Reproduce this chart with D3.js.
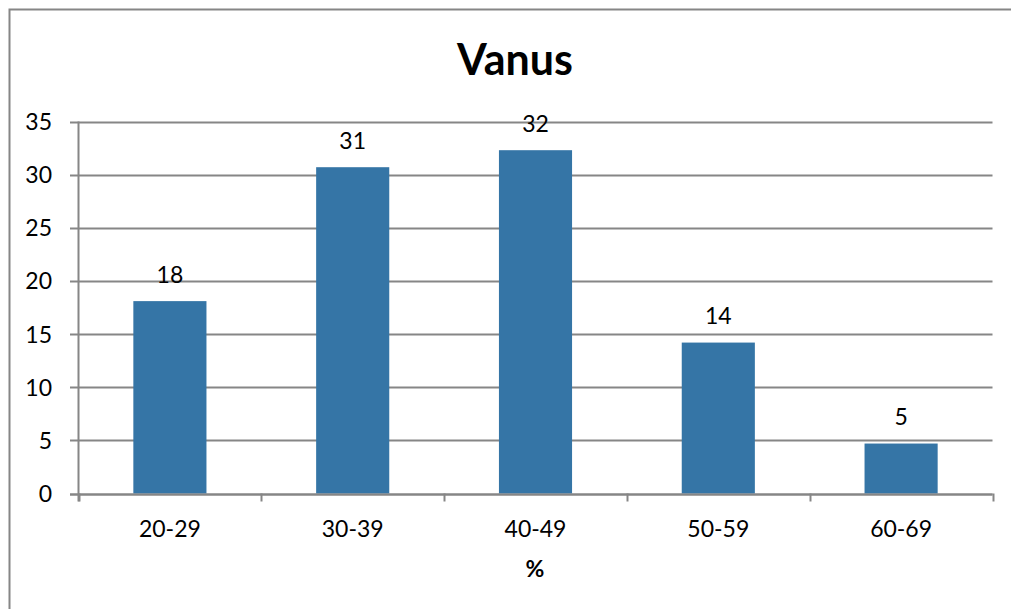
<!DOCTYPE html>
<html>
<head>
<meta charset="utf-8">
<script src="https://cdn.jsdelivr.net/npm/d3@7"></script>
<style>
  html, body { margin: 0; padding: 0; background: #fff; }
  svg { display: block; font-family: Lato, "Open Sans", sans-serif; }
</style>
</head>
<body>
<svg id="chart" width="1011" height="609"></svg>
<script>
const categories = ["20-29", "30-39", "40-49", "50-59", "60-69"];
const values = [18.1, 30.7, 32.3, 14.2, 4.7];
const labels = ["18", "31", "32", "14", "5"];
const yTicks = [0, 5, 10, 15, 20, 25, 30, 35];
const title = "Vanus";
const xTitle = "%";

const svg = d3.select("#chart");
const gridColor = "#868686";
const barColor = "#3575A6";
const fs = 23;

// outer frame (cut off on right and bottom)
svg.append("path")
  .attr("d", "M9.5,1011 V9.5 H1011")
  .attr("fill", "none")
  .attr("stroke", gridColor)
  .attr("stroke-width", 2);

const plot = { left: 78.5, right: 992.5, top: 121.5, bottom: 493.5 };

const x = d3.scaleBand().domain(categories).range([plot.left, plot.right]).paddingInner(0.6).paddingOuter(0.3);
const y = d3.scaleLinear().domain([0, 35]).range([plot.bottom, plot.top]);

// gridlines
svg.append("g")
  .selectAll("line")
  .data(yTicks)
  .join("line")
  .attr("x1", 70).attr("x2", plot.right)
  .attr("y1", d => Math.round(y(d)) + 0.5).attr("y2", d => Math.round(y(d)) + 0.5)
  .attr("stroke", gridColor).attr("stroke-width", 2);

// y axis line
svg.append("line")
  .attr("x1", plot.left).attr("x2", plot.left)
  .attr("y1", plot.top).attr("y2", plot.bottom + 8)
  .attr("stroke", gridColor).attr("stroke-width", 2);

// y tick labels
svg.append("g")
  .selectAll("text")
  .data(yTicks)
  .join("text")
  .attr("x", 52).attr("y", d => y(d) + 8.5)
  .attr("text-anchor", "end")
  .attr("font-size", fs)
  .attr("fill", "#000")
  .text(d => d);

// x category boundary ticks
const bounds = d3.range(categories.length + 1).map(i => plot.left + i * (plot.right - plot.left) / categories.length);
svg.append("g")
  .selectAll("line")
  .data(bounds)
  .join("line")
  .attr("x1", d => Math.round(d) + 0.5).attr("x2", d => Math.round(d) + 0.5)
  .attr("y1", plot.bottom).attr("y2", plot.bottom + 8)
  .attr("stroke", gridColor).attr("stroke-width", 2);

// bars
svg.append("g")
  .selectAll("rect")
  .data(values)
  .join("rect")
  .attr("x", (d, i) => x(categories[i]))
  .attr("width", x.bandwidth())
  .attr("y", d => y(d))
  .attr("height", d => y(0) - y(d))
  .attr("fill", barColor);

// baseline over bars
svg.append("line")
  .attr("x1", 70).attr("x2", plot.right)
  .attr("y1", Math.round(y(0)) + 0.5).attr("y2", Math.round(y(0)) + 0.5)
  .attr("stroke", gridColor).attr("stroke-width", 2);

// data labels
svg.append("g")
  .selectAll("text")
  .data(values)
  .join("text")
  .attr("x", (d, i) => x(categories[i]) + x.bandwidth() / 2)
  .attr("y", d => y(d) - 18.5)
  .attr("text-anchor", "middle")
  .attr("font-size", fs)
  .attr("fill", "#000")
  .text((d, i) => labels[i]);

// x labels
svg.append("g")
  .selectAll("text")
  .data(categories)
  .join("text")
  .attr("x", d => x(d) + x.bandwidth() / 2)
  .attr("y", 536.5)
  .attr("text-anchor", "middle")
  .attr("font-size", fs)
  .attr("fill", "#000")
  .text(d => d);

// axis title
svg.append("text")
  .attr("x", 535).attr("y", 577)
  .attr("text-anchor", "middle")
  .attr("font-size", 23)
  .attr("font-weight", "bold")
  .attr("fill", "#000")
  .text(xTitle);

// chart title
svg.append("text")
  .attr("x", 515).attr("y", 75)
  .attr("text-anchor", "middle")
  .attr("font-size", 43)
  .attr("font-weight", "bold")
  .attr("fill", "#000")
  .text(title);
</script>
</body>
</html>
